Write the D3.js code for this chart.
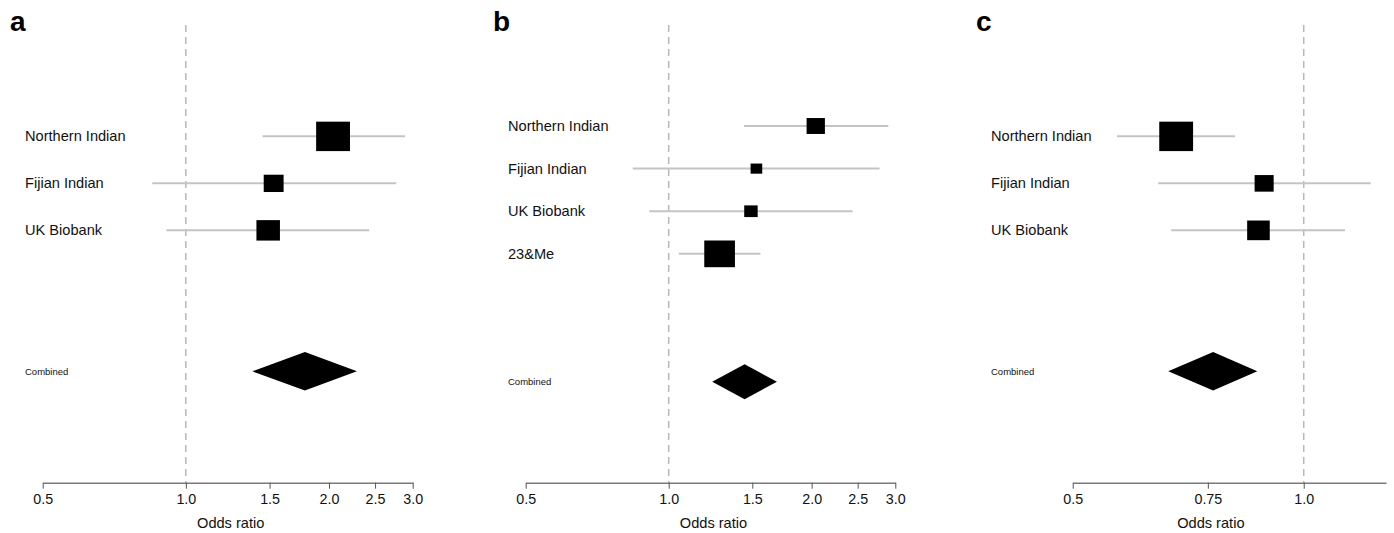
<!DOCTYPE html>
<html>
<head>
<meta charset="utf-8">
<script src="https://cdn.jsdelivr.net/npm/d3@7"></script>
<style>
  body { margin: 0; background: #fff; }
  svg { display: block; font-family: "Liberation Sans", Arial, sans-serif; }
</style>
</head>
<body>
<svg id="chart" width="1394" height="533"></svg>
<script>
// panel a - three cohorts
const studiesA = ["Northern Indian", "Fijian Indian", "UK Biobank"];
const orA = [2.04, 1.53, 1.49];
const lowA = [1.45, 0.85, 0.91];
const highA = [2.89, 2.77, 2.43];
const weightA = [54.7, 18.9, 26.4];
const combinedA = [1.78, 1.38, 2.29]; // estimate, lower, upper
const ticksA = [0.5, 1.0, 1.5, 2.0, 2.5, 3.0];

// panel b - with 23&Me
const studiesB = ["Northern Indian", "Fijian Indian", "UK Biobank", "23&Me"];
const orB = [2.04, 1.53, 1.49, 1.28];
const lowB = [1.44, 0.84, 0.91, 1.05];
const highB = [2.90, 2.78, 2.44, 1.56];
const weightB = [35.6, 14.4, 19.2, 100];
const combinedB = [1.445, 1.235, 1.69];
const ticksB = [0.5, 1.0, 1.5, 2.0, 2.5, 3.0];

// panel c
const studiesC = ["Northern Indian", "Fijian Indian", "UK Biobank"];
const orC = [0.682, 0.888, 0.873];
const lowC = [0.571, 0.646, 0.672];
const highC = [0.814, 1.223, 1.132];
const weightC = [56.7, 18.0, 25.3];
const combinedC = [0.762, 0.666, 0.870];
const ticksC = [0.5, 0.75, 1.0];

const panels = [
    { tag: "a", left: 0, range: [42.7, 412.7], domain: [0.5, 3.0],
      studies: studiesA, or: orA, low: lowA, high: highA, weight: weightA, combined: combinedA, ticks: ticksA },
    { tag: "b", left: 483, range: [525.7, 895.3], domain: [0.5, 3.0],
      studies: studiesB, or: orB, low: lowB, high: highB, weight: weightB, combined: combinedB, ticks: ticksB },
    { tag: "c", left: 966, range: [1072.7, 1386], domain: [0.5, 1.28],
      studies: studiesC, or: orC, low: lowC, high: highC, weight: weightC, combined: combinedC, ticks: ticksC },
];

const svg = d3.select("#chart");
const plotTop = 25, axisY = 482.7;

function drawPanel(p) {
    const g = svg.append("g");
    const k = p.studies.length;

    const x = d3.scaleLog().domain(p.domain).range(p.range);
    const y = d3.scaleLinear().domain([-2.37, k + 4.37]).range([plotTop, axisY]);
    const rowH = y(1) - y(0);

    const box = d3.scaleSqrt()
        .domain([0, d3.max(p.weight)])
        .range([0, rowH * 0.72]);

    // panel letter
    g.append("text")
        .attr("x", p.left + 10)
        .attr("y", 31)
        .attr("font-size", 28)
        .attr("font-weight", "bold")
        .attr("fill", "#000")
        .text(p.tag);

    // null line
    g.append("line")
        .attr("x1", x(1)).attr("x2", x(1))
        .attr("y1", plotTop).attr("y2", axisY)
        .attr("stroke", "#b8b8b8")
        .attr("stroke-width", 1.5)
        .attr("stroke-dasharray", "7,5");

    const rows = p.studies.map((name, i) => ({
        name, or: p.or[i], low: p.low[i], high: p.high[i], w: p.weight[i], i
    }));

    g.selectAll(".label")
        .data(rows)
        .enter()
        .append("text")
        .attr("x", p.left + 25)
        .attr("y", d => y(d.i))
        .attr("dy", "0.35em")
        .attr("font-size", 14.6)
        .attr("fill", "#111")
        .text(d => d.name);

    g.selectAll(".ci")
        .data(rows)
        .enter()
        .append("line")
        .attr("x1", d => x(d.low))
        .attr("x2", d => x(d.high))
        .attr("y1", d => y(d.i))
        .attr("y2", d => y(d.i))
        .attr("stroke", "#c4c4c4")
        .attr("stroke-width", 2);

    g.selectAll(".box")
        .data(rows)
        .enter()
        .append("rect")
        .attr("x", d => x(d.or) - box(d.w) / 2)
        .attr("y", d => y(d.i) - box(d.w) * 0.87 / 2)
        .attr("width", d => box(d.w))
        .attr("height", d => box(d.w) * 0.87)
        .attr("fill", "#000");

    // combined estimate
    const cy = y(k + 2);
    const dh = rowH * 0.41;
    const [est, lo, hi] = p.combined;
    g.append("path")
        .attr("d", `M${x(lo)},${cy} L${x(est)},${cy - dh} L${x(hi)},${cy} L${x(est)},${cy + dh} Z`)
        .attr("fill", "#000");

    g.append("text")
        .attr("x", p.left + 25)
        .attr("y", cy)
        .attr("dy", "0.35em")
        .attr("font-size", 9.5)
        .attr("fill", "#111")
        .text("Combined");

    // axis
    const axis = d3.axisBottom(x)
        .tickValues(p.ticks)
        .tickFormat(d => d === 0.75 ? "0.75" : d3.format(".1f")(d))
        .tickSize(6)
        .tickSizeOuter(0);

    const ax = g.append("g")
        .attr("transform", `translate(0,${axisY})`)
        .call(axis);
    ax.select(".domain").attr("stroke", "#7a7a7a").attr("stroke-width", 1.5);
    ax.selectAll(".tick line").attr("stroke", "#555").attr("stroke-width", 1);
    ax.selectAll(".tick text")
        .attr("font-size", 14.3)
        .attr("font-family", "Liberation Sans, Arial, sans-serif")
        .attr("fill", "#111")
        .attr("y", 11);

    const tickEnds = d3.extent(p.ticks).map(x);
    g.append("text")
        .attr("x", p.tag === "c" ? x(0.75) + 3 : d3.mean(tickEnds) + 3)
        .attr("y", 528)
        .attr("text-anchor", "middle")
        .attr("font-size", 14.6)
        .attr("fill", "#111")
        .text("Odds ratio");
}

panels.forEach(drawPanel);
</script>
</body>
</html>
